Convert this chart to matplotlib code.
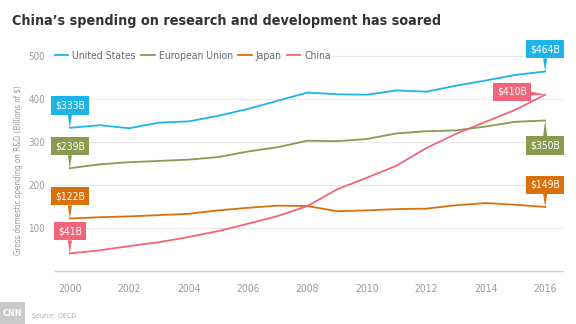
import matplotlib
matplotlib.use("Agg")
import matplotlib.pyplot as plt
from matplotlib.patches import Rectangle

plt.rcParams['font.family'] = ['DejaVu Sans']
plt.rcParams['font.stretch'] = 'condensed'

years = list(range(2000, 2017))
us = [333, 339, 332, 345, 348, 361, 377, 396, 415, 411, 410, 420, 417, 431, 443, 456, 464]
eu = [239, 248, 253, 256, 259, 265, 278, 288, 303, 302, 307, 320, 325, 327, 336, 347, 350]
japan = [122, 125, 127, 130, 133, 141, 147, 152, 151, 139, 141, 144, 145, 153, 158, 154, 149]
china = [41, 48, 58, 67, 79, 93, 110, 128, 151, 190, 217, 245, 286, 319, 347, 375, 410]

series = [
    ("United States", us, "#1db5e8"),
    ("European Union", eu, "#8a9a4e"),
    ("Japan", japan, "#d9700c"),
    ("China", china, "#f2647a"),
]

# where the end-point callouts sit relative to their point (points)
start_offsets = {"United States": (0, 16), "European Union": (0, 16),
                 "Japan": (0, 16), "China": (0, 16)}
end_offsets = {"United States": (0, 16), "European Union": (0, -18),
               "Japan": (0, 16), "China": (-24, 2)}


def callout(ax, x, y, text, color, offset):
    ax.annotate(text, xy=(x, y), xytext=offset, textcoords="offset points",
                ha="center", va="center", color="white", fontsize=7.5,
                bbox=dict(boxstyle="square,pad=0.4", fc=color, ec="none"),
                arrowprops=dict(arrowstyle="wedge,tail_width=0.4", fc=color,
                                ec="none", shrinkA=0, shrinkB=0),
                zorder=5, annotation_clip=False)


fig = plt.figure(figsize=(5.76, 3.24), dpi=100)
ax = fig.add_axes([55 / 576, 1 - 271 / 324, 508 / 576, 540 * 0.43 / 324])

for name, vals, color in series:
    ax.plot(years, vals, color=color, lw=1.3, label=name, zorder=3)

for name, vals, color in series:
    callout(ax, years[0], vals[0], f"${vals[0]}B", color, start_offsets[name])
    callout(ax, years[-1], vals[-1], f"${vals[-1]}B", color, end_offsets[name])

ax.set_xlim(1999.5, 2016.6)
ax.set_ylim(0, 540)
ax.set_xticks(range(2000, 2017, 2))
ax.set_yticks([100, 200, 300, 400, 500])
ax.tick_params(length=0, labelsize=7, labelcolor="#9a9a9a")
ax.tick_params(axis="x", pad=9, labelsize=7.5)
ax.tick_params(axis="y", pad=7)
ax.grid(axis="y", color="#e8e8e8", lw=0.8, zorder=0)
for side in ["top", "right", "left"]:
    ax.spines[side].set_visible(False)
ax.spines["bottom"].set_color("#cfcfcf")
ax.spines["bottom"].set_linewidth(1)

leg = ax.legend(loc="center left", bbox_to_anchor=(-0.005, 500 / 540), ncol=4,
                frameon=True, facecolor="white", edgecolor="none", framealpha=1,
                fontsize=7.5, handlelength=1.3, handletextpad=0.4,
                columnspacing=0.5, borderpad=0.2, borderaxespad=0,
                labelcolor="#666666")
leg.set_zorder(4)

fig.text(12 / 576, 1 - 21 / 324, "China\u2019s spending on research and development has soared",
         fontsize=10.3, fontweight="bold", color="#333333", va="center")
fig.text(19 / 576, 1 - 170 / 324, "Gross domestic spending on R&D (Billions of $)",
         rotation=90, fontsize=5.8, color="#9a9a9a", ha="center", va="center")

# logo block and source line
fig.patches.append(Rectangle((0, 0), 25 / 576, 22 / 324, transform=fig.transFigure,
                             fc="#c9c9c9", ec="none"))
fig.text(12.5 / 576, 11 / 324, "CNN", fontsize=6.5, fontweight="bold", color="white",
         ha="center", va="center")
fig.text(32 / 576, 1 - 316 / 324, "Source: OECD", fontsize=5, color="#aaaaaa", va="center")

fig.savefig("out.png", dpi=100)
